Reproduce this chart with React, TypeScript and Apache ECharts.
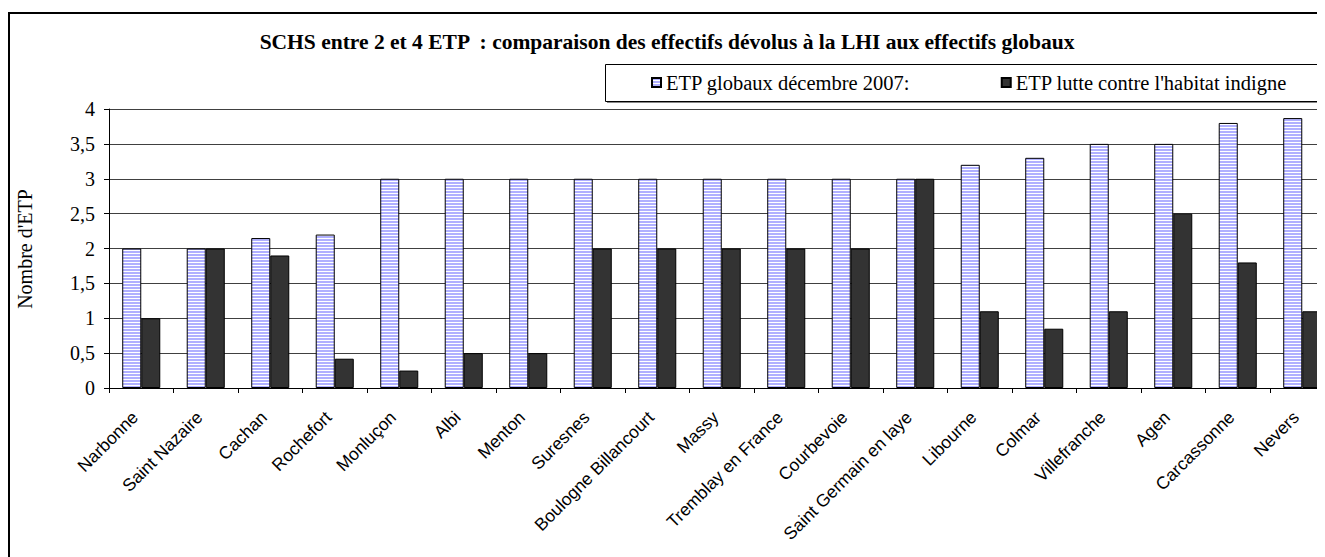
import React, { useEffect, useRef } from "react";
import * as echarts from "echarts";

const categories = [
  "Narbonne", "Saint Nazaire", "Cachan", "Rochefort", "Monluçon", "Albi", "Menton",
  "Suresnes", "Boulogne Billancourt", "Massy", "Tremblay en France", "Courbevoie",
  "Saint Germain en laye", "Libourne", "Colmar", "Villefranche", "Agen", "Carcassonne", "Nevers",
];
const etpGlobaux = [2, 2, 2.15, 2.2, 3, 3, 3, 3, 3, 3, 3, 3, 3, 3.2, 3.3, 3.5, 3.5, 3.8, 3.87];
const etpLhi = [1, 2, 1.9, 0.42, 0.25, 0.5, 0.5, 2, 2, 2, 2, 2, 3, 1.1, 0.85, 1.1, 2.5, 1.8, 1.1];
const seriesNames = ["ETP globaux décembre 2007:", "ETP lutte contre l'habitat indigne"];
const titleText = "SCHS entre 2 et 4 ETP  : comparaison des effectifs dévolus à la LHI aux effectifs globaux";
const yAxisTitle = "Nombre d'ETP";

function makeStripe(): HTMLCanvasElement {
  const c = document.createElement("canvas");
  c.width = 4;
  c.height = 3;
  const ctx = c.getContext("2d")!;
  ctx.fillStyle = "#ffffff";
  ctx.fillRect(0, 0, 4, 3);
  ctx.fillStyle = "#b0b0ff";
  ctx.fillRect(0, 0, 4, 2);
  return c;
}

export default function App() {
  const ref = useRef<HTMLDivElement>(null);
  useEffect(() => {
    if (!ref.current) return;
    document.documentElement.style.overflow = "hidden";
    document.body.style.overflow = "hidden";
    const chart = echarts.init(ref.current, undefined, { renderer: "svg" });
    const stripe = { image: makeStripe(), repeat: "repeat" } as any;
    const serif = "'Liberation Serif', 'Times New Roman', serif";
    const sans = "'Liberation Sans', Arial, sans-serif";
    const legendText = { fontFamily: serif, fontSize: 20.5, color: "#000" };
    chart.setOption({
      animation: false,
      backgroundColor: "#ffffff",
      grid: {
        left: 101,
        top: 101,
        right: 33.5,
        bottom: 240,
        containLabel: false,
        outerBoundsMode: "none",
      },
      legend: [
        {
          left: 638,
          top: 59,
          itemWidth: 9,
          itemHeight: 9,
          itemGap: 4,
          icon: "rect",
          textStyle: legendText,
          data: [seriesNames[0]],
        },
        {
          right: 76,
          top: 59,
          itemWidth: 9,
          itemHeight: 9,
          icon: "rect",
          textStyle: legendText,
          data: [seriesNames[1]],
        },
      ],
      graphic: [
        {
          type: "rect",
          shape: { x: 1, y: 5, width: 1400, height: 700 },
          style: { fill: "none", stroke: "#000", lineWidth: 2 },
          silent: true,
          z: 100,
        },
        {
          type: "rect",
          shape: { x: 597.5, y: 56.5, width: 800, height: 37 },
          style: { fill: "none", stroke: "#000", lineWidth: 1 },
          silent: true,
        },
        {
          type: "line",
          shape: { x1: 599, y1: 94.5, x2: 1400, y2: 94.5 },
          style: { stroke: "#888", lineWidth: 1 },
          silent: true,
        },
        {
          type: "text",
          x: 659,
          y: 34,
          style: {
            text: titleText,
            font: `bold 21.5px ${serif}`,
            fill: "#000",
            textAlign: "center",
            textVerticalAlign: "middle",
          },
        },
        {
          type: "text",
          x: 17,
          y: 241,
          rotation: Math.PI / 2,
          style: {
            text: yAxisTitle,
            font: `20px ${serif}`,
            fill: "#000",
            textAlign: "center",
            textVerticalAlign: "middle",
          },
        },
      ],
      xAxis: {
        type: "category",
        data: categories,
        axisLine: { lineStyle: { color: "#000", width: 1 } },
        axisTick: { show: true, length: 5, lineStyle: { color: "#000" } },
        axisLabel: {
          interval: 0,
          rotate: 45,
          margin: 20,
          padding: [0, 9, 0, 0],
          fontFamily: sans,
          fontSize: 17.5,
          color: "#000",
        },
      },
      yAxis: {
        type: "value",
        min: 0,
        max: 4,
        interval: 0.5,
        axisLine: { show: true, lineStyle: { color: "#000", width: 1 } },
        axisTick: { show: true, length: 5, lineStyle: { color: "#000" } },
        splitLine: { show: true, lineStyle: { color: "#404040", width: 1 } },
        axisLabel: {
          margin: 14,
          fontFamily: serif,
          fontSize: 20,
          color: "#000",
          formatter: (v: number) => String(v).replace(".", ","),
        },
      },
      series: [
        {
          name: seriesNames[0],
          type: "bar",
          data: etpGlobaux,
          barCategoryGap: "41%",
          barGap: "0%",
          itemStyle: { color: stripe, borderColor: "#000", borderWidth: 1 },
        },
        {
          name: seriesNames[1],
          type: "bar",
          data: etpLhi,
          itemStyle: { color: "#333333", borderColor: "#000", borderWidth: 1 },
        },
      ],
    });
    return () => chart.dispose();
  }, []);
  return (
    <div style={{ width: 1317, height: 549, overflow: "hidden" }}>
      <div ref={ref} style={{ width: 1360, height: 620 }} />
    </div>
  );
}
